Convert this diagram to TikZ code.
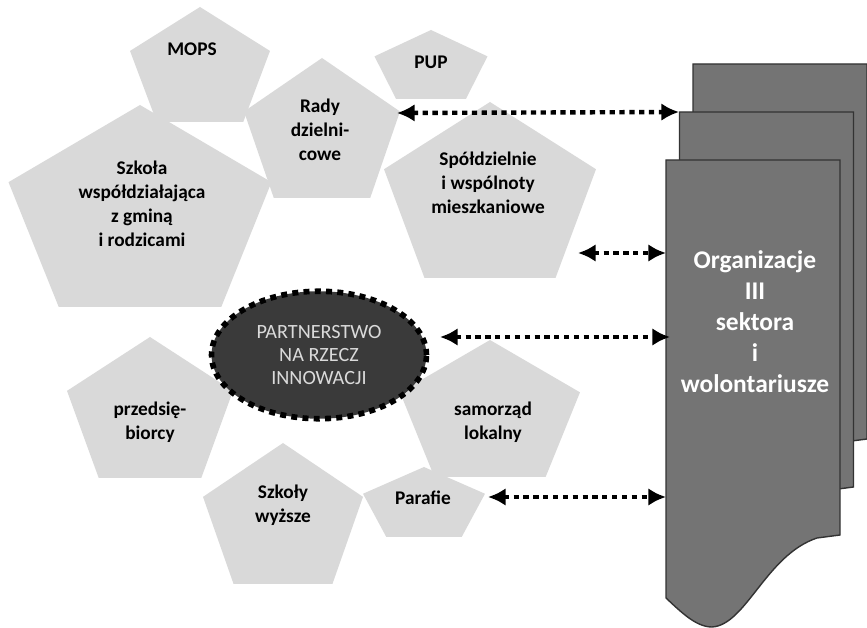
\documentclass[tikz,border=0pt]{standalone}
\usepackage{fontspec}
\setmainfont{Carlito}
\usetikzlibrary{arrows.meta,shapes.geometric}

\definecolor{pentagrey}{HTML}{D9D9D9}
\definecolor{sheetgrey}{HTML}{747474}
\definecolor{sheetline}{HTML}{333333}
\definecolor{ovalgrey}{HTML}{3A3A3A}
\definecolor{ovaltext}{HTML}{DADADA}

\tikzset{
	penta/.style={fill=pentagrey},
	penlabel/.style={font=\bfseries\fontsize{11}{13.6}\selectfont, align=center, text=black},
	sheet/.style={fill=sheetgrey, draw=sheetline, line width=0.8pt},
	link/.style={{Latex[length=10pt,width=10pt]}-{Latex[length=10pt,width=10pt]},
			line width=2.5pt, dash pattern=on 3pt off 2.6pt}
}

% pentagon: centre x, top y, width, height
\newcommand{\drawpenta}[4]{%
	\fill[penta, shift={(#1,#2)}, xscale=#3, yscale=#4]
	(0,0) -- (0.5,0.382) -- (0.309,1) -- (-0.309,1) -- (-0.5,0.382) -- cycle;}

\begin{document}
\begin{tikzpicture}[x=0.02cm, y=-0.02cm]
	\useasboundingbox (0,0) rectangle (867,628);

	% Stacked sheets
	\foreach \dx/\dy in {27/-96, 13.5/-48, 0/0}
		\draw[sheet, shift={(666+\dx,160+\dy)}]
			(0,0) -- (174,0) -- (174,375) -- (151,378)
			.. controls (100,395) and (80,465) .. (46,467)
			.. controls (30,467) and (15,452) .. (0,438) -- cycle;
	\node[font=\bfseries\fontsize{14.5}{17.6}\selectfont, text=white, align=center]
		(org) at (755,322) {Organizacje\\III\\sektora\\i\\wolontariusze};

	% Pentagons
	\drawpenta{200}{7}{140}{115}
	\drawpenta{431}{30}{113}{69}
	\drawpenta{322}{58}{156}{140}
	\drawpenta{140}{105}{263}{202}
	\drawpenta{490}{102}{212}{176}
	\drawpenta{150}{337}{166}{141}
	\drawpenta{283}{443}{160}{141}
	\drawpenta{490}{340}{180}{137}
	\drawpenta{424}{467}{122}{70}

	% Labels
	\node[penlabel] (mops) at (192,49) {MOPS};
	\node[penlabel] (pup) at (431,62) {PUP};
	\node[penlabel] (rady) at (320,130) {Rady\\dzielni-\\cowe};
	\node[penlabel] (szkola) at (142,204) {Szkoła\\współdziałająca\\z gminą\\i rodzicami};
	\node[penlabel] (spoldz) at (488,183) {Spółdzielnie\\i wspólnoty\\mieszkaniowe};
	\node[penlabel] (przeds) at (150,422) {przedsię-\\biorcy};
	\node[penlabel] (wyzsze) at (283,505) {Szkoły\\wyższe};
	\node[penlabel] (parafie) at (423,498) {Parafie};
	\node[penlabel] (samorzad) at (493,422) {samorząd\\lokalny};

	% Partnership
	\node[ellipse, fill=ovalgrey, draw=black, line width=3.2pt, dash pattern=on 3.4pt off 3pt,
		minimum width=4.3cm, minimum height=2.55cm, inner sep=0pt,
		font=\fontsize{11.5}{13.2}\selectfont, text=ovaltext, align=center]
		(partner) at (319,355) {PARTNERSTWO\\NA RZECZ\\INNOWACJI};

	% Arrow ends
	\coordinate (radyR) at (397,113);
	\coordinate (spoldzR) at (578,253);
	\coordinate (partnerR) at (440,337);
	\coordinate (parafieR) at (488,497);
	\coordinate (midL) at (679,112);
	\coordinate (frontA) at (666,253);
	\coordinate (frontB) at (670,337);
	\coordinate (frontC) at (666,497);

	% Links
	\draw[link] (radyR) -- (midL);
	\draw[link] (spoldzR) -- (frontA);
	\draw[link] (partnerR) -- (frontB);
	\draw[link] (parafieR) -- (frontC);
\end{tikzpicture}
\end{document}
